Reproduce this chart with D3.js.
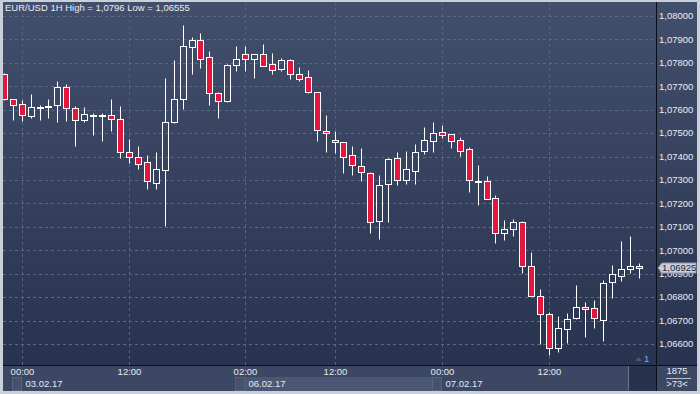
<!DOCTYPE html>
<html>
<head>
<meta charset="utf-8">
<script src="https://cdn.jsdelivr.net/npm/d3@7"></script>
<style>
  body { margin: 0; background: #c9d0da; }
  svg { display: block; font-family: "Liberation Sans", Arial, sans-serif; }
</style>
</head>
<body>
<div id="chart"></div>
<script>
"use strict";
// hourly candles, 02.02.17 22:00 .. 07.02.17 22:00
const times = [
  "02.02 22:00", "02.02 23:00",
  "03.02 00:00", "03.02 01:00", "03.02 02:00", "03.02 03:00", "03.02 04:00", "03.02 05:00",
  "03.02 06:00", "03.02 07:00", "03.02 08:00", "03.02 09:00", "03.02 10:00", "03.02 11:00",
  "03.02 12:00", "03.02 13:00", "03.02 14:00", "03.02 15:00", "03.02 16:00", "03.02 17:00",
  "03.02 18:00", "03.02 19:00", "03.02 20:00", "03.02 21:00", "03.02 22:00",
  "06.02 00:00", "06.02 01:00", "06.02 02:00", "06.02 03:00", "06.02 04:00", "06.02 05:00",
  "06.02 06:00", "06.02 07:00", "06.02 08:00", "06.02 09:00", "06.02 10:00", "06.02 11:00",
  "06.02 12:00", "06.02 13:00", "06.02 14:00", "06.02 15:00", "06.02 16:00", "06.02 17:00",
  "06.02 18:00", "06.02 19:00", "06.02 20:00", "06.02 21:00", "06.02 22:00", "06.02 23:00",
  "07.02 00:00", "07.02 01:00", "07.02 02:00", "07.02 03:00", "07.02 04:00", "07.02 05:00",
  "07.02 06:00", "07.02 07:00", "07.02 08:00", "07.02 09:00", "07.02 10:00", "07.02 11:00",
  "07.02 12:00", "07.02 13:00", "07.02 14:00", "07.02 15:00", "07.02 16:00", "07.02 17:00",
  "07.02 18:00", "07.02 19:00", "07.02 20:00", "07.02 21:00", "07.02 22:00"
];
const opens = [
  1.07751, 1.07646,
  1.07623, 1.07574, 1.07607, 1.07614, 1.07619, 1.07696, 1.07606, 1.07555, 1.07577, 1.07577,
  1.07576, 1.07559, 1.07421, 1.07397, 1.07375, 1.07288, 1.07344, 1.07549, 1.07647, 1.07869,
  1.07896, 1.07824, 1.07670,
  1.07638, 1.07789, 1.07836, 1.07818, 1.07836, 1.07794, 1.07775, 1.07811, 1.07751, 1.07738,
  1.07677, 1.07508, 1.07469, 1.07461, 1.07405, 1.07358, 1.07328, 1.07123, 1.07281, 1.07392,
  1.07298, 1.07337, 1.07422, 1.07465,
  1.07503, 1.07495, 1.07469, 1.07431, 1.07294, 1.07296, 1.07222, 1.07072, 1.07089, 1.07119,
  1.06935, 1.06807, 1.06730, 1.06585, 1.06665, 1.06713, 1.06756, 1.06752, 1.06703, 1.06863,
  1.06891, 1.06918, 1.06935
];
const highs = [
  1.07755, 1.07646,
  1.07640, 1.07667, 1.07620, 1.07646, 1.07722, 1.07708, 1.07614, 1.07610, 1.07585, 1.07585,
  1.07647, 1.07616, 1.07475, 1.07445, 1.07406, 1.07419, 1.07734, 1.07811, 1.07960, 1.07909,
  1.07927, 1.07849, 1.07675,
  1.07796, 1.07872, 1.07872, 1.07836, 1.07880, 1.07841, 1.07821, 1.07816, 1.07782, 1.07769,
  1.07677, 1.07576, 1.07508, 1.07461, 1.07445, 1.07436, 1.07334, 1.07321, 1.07395, 1.07421,
  1.07424, 1.07453, 1.07525, 1.07546,
  1.07535, 1.07495, 1.07482, 1.07441, 1.07364, 1.07317, 1.07234, 1.07129, 1.07133, 1.07125,
  1.06992, 1.06834, 1.06736, 1.06719, 1.06733, 1.06850, 1.06779, 1.06787, 1.06873, 1.06937,
  1.07039, 1.07060, 1.06945
];
const lows = [
  1.07640, 1.07556,
  1.07553, 1.07563, 1.07556, 1.07563, 1.07549, 1.07553, 1.07446, 1.07548, 1.07492, 1.07468,
  1.07508, 1.07392, 1.07374, 1.07348, 1.07263, 1.07263, 1.07105, 1.07544, 1.07603, 1.07752,
  1.07779, 1.07621, 1.07566,
  1.07633, 1.07766, 1.07766, 1.07737, 1.07788, 1.07754, 1.07766, 1.07732, 1.07724, 1.07672,
  1.07466, 1.07421, 1.07415, 1.07331, 1.07321, 1.07294, 1.07072, 1.07047, 1.07122, 1.07278,
  1.07281, 1.07281, 1.07412, 1.07421,
  1.07480, 1.07438, 1.07403, 1.07250, 1.07194, 1.07217, 1.07032, 1.07044, 1.07062, 1.06901,
  1.06803, 1.06602, 1.06555, 1.06567, 1.06605, 1.06705, 1.06631, 1.06669, 1.06613, 1.06797,
  1.06870, 1.06904, 1.06883
];
const closes = [
  1.07644, 1.07619,
  1.07576, 1.07610, 1.07610, 1.07616, 1.07696, 1.07606, 1.07555, 1.07580, 1.07578, 1.07578,
  1.07559, 1.07421, 1.07397, 1.07367, 1.07294, 1.07345, 1.07546, 1.07644, 1.07871, 1.07896,
  1.07818, 1.07670, 1.07638,
  1.07789, 1.07815, 1.07815, 1.07836, 1.07788, 1.07768, 1.07811, 1.07751, 1.07732, 1.07677,
  1.07512, 1.07499, 1.07461, 1.07397, 1.07362, 1.07333, 1.07119, 1.07277, 1.07388, 1.07298,
  1.07345, 1.07421, 1.07469, 1.07499,
  1.07491, 1.07465, 1.07422, 1.07298, 1.07296, 1.07217, 1.07072, 1.07092, 1.07119, 1.06931,
  1.06803, 1.06730, 1.06585, 1.06668, 1.06705, 1.06756, 1.06748, 1.06713, 1.06859, 1.06897,
  1.06920, 1.06935, 1.06925
];
const priceTicks = [1.066, 1.067, 1.068, 1.069, 1.070, 1.071, 1.072, 1.073, 1.074, 1.075,
  1.076, 1.077, 1.078, 1.079, 1.080];
const timeTicks = ["03.02 00:00", "03.02 12:00", "06.02 02:00", "06.02 12:00", "07.02 00:00", "07.02 12:00"];
const dateTicks = ["03.02 00:00", "06.02 02:00", "07.02 00:00"];
const dateLabels = ["03.02.17", "06.02.17", "07.02.17"];
const title = "EUR/USD 1H High = 1,0796 Low = 1,06555";

const width = 700, height = 394;
const plotLeft = 3, plotRight = 656, plotTop = 2, plotBottom = 365;
const candles = times.map((t, i) => ({ t, o: opens[i], h: highs[i], l: lows[i], c: closes[i] }));

const svg = d3.select("#chart").append("svg")
  .attr("width", width)
  .attr("height", height);

const defs = svg.append("defs");
const grad = defs.append("linearGradient")
  .attr("id", "bg").attr("x1", 0).attr("y1", 0).attr("x2", 0).attr("y2", 1);
grad.append("stop").attr("offset", "0%").attr("stop-color", "#424f6c");
grad.append("stop").attr("offset", "100%").attr("stop-color", "#28334f");
defs.append("clipPath").attr("id", "plotClip")
  .append("rect")
  .attr("x", plotLeft).attr("y", plotTop)
  .attr("width", plotRight - plotLeft).attr("height", plotBottom - plotTop);

// frame + panels
svg.append("rect").attr("width", width).attr("height", height).attr("fill", "#c9d0da");
svg.append("rect")
  .attr("x", plotLeft).attr("y", plotTop)
  .attr("width", 697 - plotLeft).attr("height", plotBottom - plotTop)
  .attr("fill", "url(#bg)");
svg.append("rect")
  .attr("x", plotLeft).attr("y", plotBottom)
  .attr("width", 697 - plotLeft).attr("height", 391 - plotBottom)
  .attr("fill", "#3b4763");

const x = d3.scaleBand()
  .domain(times)
  .range([-0.7, -0.7 + 8.94 * times.length]);
const cx = t => Math.round(x(t) + x.bandwidth() / 2) + 0.5;

const y = d3.scaleLinear()
  .domain([1.066, 1.080])
  .range([344, 16]);
const py = v => Math.round(y(v)) + 0.5;

const fmtPrice = v => d3.format(".5f")(v).replace(".", ",");

// grid
const grid = svg.append("g").attr("clip-path", "url(#plotClip)");
grid.selectAll(".hgrid")
  .data(priceTicks)
  .enter()
  .append("line")
  .attr("x1", plotLeft).attr("x2", plotRight)
  .attr("y1", d => py(d)).attr("y2", d => py(d))
  .attr("stroke", "#5a6785")
  .attr("stroke-dasharray", "3,3");
grid.selectAll(".vgrid")
  .data(timeTicks)
  .enter()
  .append("line")
  .attr("x1", d => cx(d)).attr("x2", d => cx(d))
  .attr("y1", plotTop).attr("y2", plotBottom)
  .attr("stroke", "#56637f")
  .attr("stroke-dasharray", "3,3");

// candles: hollow white bodies for rising hours, red for falling
const candleG = svg.append("g").attr("clip-path", "url(#plotClip)");
const candle = candleG.selectAll(".candle")
  .data(candles)
  .enter()
  .append("g")
  .attr("class", "candle");
candle.append("line")
  .attr("x1", d => cx(d.t)).attr("x2", d => cx(d.t))
  .attr("y1", d => py(d.h)).attr("y2", d => py(Math.max(d.o, d.c)))
  .attr("stroke", "#ffffff");
candle.append("line")
  .attr("x1", d => cx(d.t)).attr("x2", d => cx(d.t))
  .attr("y1", d => py(Math.min(d.o, d.c))).attr("y2", d => py(d.l))
  .attr("stroke", "#ffffff");
candle.append("rect")
  .attr("x", d => cx(d.t) - 3)
  .attr("width", 6)
  .attr("y", d => py(Math.max(d.o, d.c)))
  .attr("height", d => Math.max(1, py(Math.min(d.o, d.c)) - py(Math.max(d.o, d.c))))
  .attr("fill", d => d.c < d.o ? "#e3173e" : "none")
  .attr("stroke", "#ffffff");

// separators
svg.append("line")
  .attr("x1", plotLeft).attr("x2", 697)
  .attr("y1", plotBottom + 0.5).attr("y2", plotBottom + 0.5)
  .attr("stroke", "#0b0f18");
svg.append("line")
  .attr("x1", plotRight + 0.5).attr("x2", plotRight + 0.5)
  .attr("y1", plotTop).attr("y2", 391)
  .attr("stroke", "#0b0f18");

// price axis labels
svg.append("g").selectAll("text")
  .data(priceTicks)
  .enter()
  .append("text")
  .attr("x", 659)
  .attr("y", d => y(d))
  .attr("dy", "0.35em")
  .attr("font-size", 9.5)
  .attr("fill", "#e9edf3")
  .text(fmtPrice);

// current price marker
const last = candles[candles.length - 1];
const ly = Math.round(y(last.c));
svg.append("path")
  .attr("d", `M658,${ly} L662,${ly - 5} L696,${ly - 5} L696,${ly + 5} L662,${ly + 5} Z`)
  .attr("fill", "#c9ced7")
  .attr("stroke", "#8e97aa");
svg.append("text")
  .attr("x", 662).attr("y", ly).attr("dy", "0.35em")
  .attr("font-size", 9.5)
  .attr("fill", "#1c2740")
  .text(fmtPrice(last.c));

// date row
const dateRow = svg.append("g");
const dateX = dateTicks.map(d => cx(d) - 0.5);
dateRow.append("rect")
  .attr("x", dateX[1]).attr("y", 377)
  .attr("width", dateX[2] - dateX[1]).attr("height", 14)
  .attr("fill", "#4b5875");
dateRow.selectAll(".dbox")
  .data(dateX)
  .enter()
  .append("rect")
  .attr("x", d => d - 9.5).attr("y", 377.5)
  .attr("width", 9).attr("height", 13)
  .attr("fill", "#45516d")
  .attr("stroke", "#56627e");
dateRow.selectAll(".dlabel")
  .data(dateTicks)
  .enter()
  .append("text")
  .attr("x", d => cx(d) + 3)
  .attr("y", 384)
  .attr("dy", "0.35em")
  .attr("font-size", 9.5)
  .attr("fill", "#e6eaf0")
  .text((d, i) => dateLabels[i]);

// time labels
svg.append("g").selectAll("text")
  .data(timeTicks)
  .enter()
  .append("text")
  .attr("x", d => cx(d))
  .attr("y", 372)
  .attr("dy", "0.35em")
  .attr("text-anchor", "middle")
  .attr("font-size", 9.5)
  .attr("fill", "#e6eaf0")
  .text(d => d.split(" ")[1]);

// scroll thumb
svg.append("rect")
  .attr("x", 629).attr("y", plotBottom + 1)
  .attr("width", plotRight - 629).attr("height", 391 - plotBottom - 1)
  .attr("fill", "#27324d");
svg.append("line")
  .attr("x1", 628.5).attr("x2", 628.5)
  .attr("y1", plotBottom + 1).attr("y2", 390)
  .attr("stroke", "#6b7791");

// bottom right counters
svg.append("text")
  .attr("x", 677).attr("y", 371).attr("dy", "0.35em")
  .attr("text-anchor", "middle").attr("font-size", 9.5).attr("fill", "#e6eaf0")
  .text("1875");
svg.append("line")
  .attr("x1", 666).attr("x2", 691).attr("y1", 378.5).attr("y2", 378.5)
  .attr("stroke", "#b8c0cc");
svg.append("text")
  .attr("x", 677).attr("y", 384).attr("dy", "0.35em")
  .attr("text-anchor", "middle").attr("font-size", 9.5).attr("fill", "#e6eaf0")
  .text(">73<");

// indicator marker
svg.append("path")
  .attr("d", "M635,361 L638.5,357 L642,361 Z")
  .attr("fill", "#4a5672");
svg.append("text")
  .attr("x", 644).attr("y", 359).attr("dy", "0.35em")
  .attr("font-size", 9.5).attr("fill", "#7eaee6")
  .text("1");

// title
svg.append("text")
  .attr("x", 5).attr("y", 8).attr("dy", "0.35em")
  .attr("font-size", 9.5)
  .attr("fill", "#e8ecf2")
  .text(title);
</script>
</body>
</html>
